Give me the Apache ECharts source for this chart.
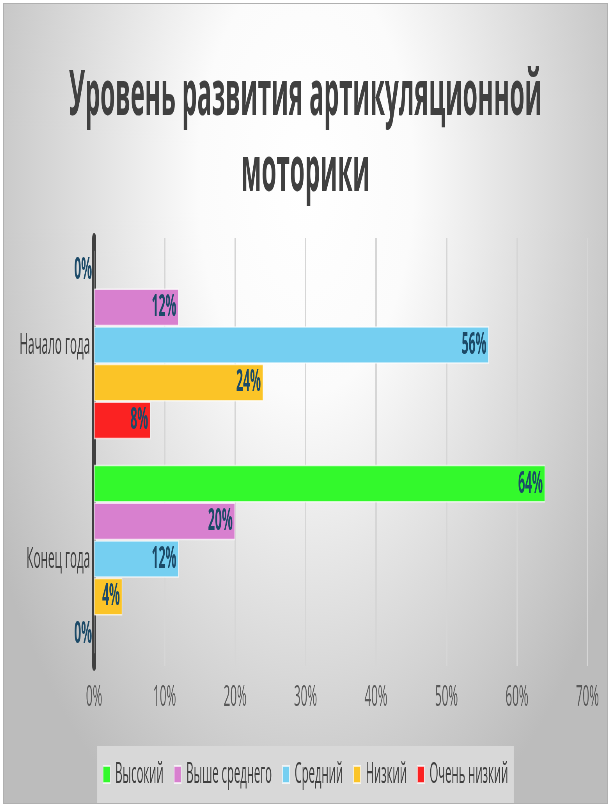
<!DOCTYPE html>
<html>
<head>
<meta charset="utf-8">
<script src="https://cdn.jsdelivr.net/npm/echarts@6/dist/echarts.min.js"></script>
<style>
  html, body { margin: 0; padding: 0; background: #fff; }
  #wrap {
    position: absolute; left: 3px; top: 3px; width: 603px; height: 799px;
    border: 1px solid #b0b0b0; overflow: hidden;
    background: radial-gradient(ellipse 360px 720px at 50% 22%, #ffffff 0%, #fbfbfb 30%, #bcbcbc 100%);
  }
  /* исходная картинка сжата по горизонтали, поэтому рисуем шире и сжимаем */
  #chart { width: 1546px; height: 799px; transform: scaleX(0.39); transform-origin: 0 0; }
</style>
</head>
<body>
<div id="wrap"><div id="chart"></div></div>
<script>
  // данные
  const categories = ['Начало года', 'Конец года'];
  const levels = ['Высокий', 'Выше среднего', 'Средний', 'Низкий', 'Очень низкий'];
  const vysokiy = [0, 64];
  const vysheSrednego = [12, 20];
  const sredniy = [56, 12];
  const nizkiy = [24, 4];
  const ochenNizkiy = [8, 0];
  const xMin = 0, xMax = 70, xStep = 10;

  const colors = ['#33f92c', '#d880cf', '#75cff1', '#fbc427', '#fb2222'];
  const values = [vysokiy, vysheSrednego, sredniy, nizkiy, ochenNizkiy];
  const font = '"Open Sans", sans-serif';

  const chart = echarts.init(document.getElementById('chart'));

  const option = {
    backgroundColor: 'transparent',
    animation: false,
    title: {
      text: 'Уровень развития артикуляционной\nмоторики',
      left: 'center',
      top: 50,
      textStyle: {
        fontFamily: font,
        fontWeight: 'bold',
        fontSize: 62,
        lineHeight: 76,
        color: '#404040'
      }
    },
    grid: {
      left: 231,
      right: 50,
      top: 234,
      bottom: 137,
      containLabel: false
    },
    legend: {
      data: levels,
      bottom: 0,
      left: 'center',
      backgroundColor: '#d8d8d8',
      padding: [14, 14, 14, 14],
      icon: 'rect',
      itemWidth: 18,
      itemHeight: 17,
      itemGap: 26,
      textStyle: {
        fontFamily: font,
        fontSize: 29,
        color: '#404040',
        padding: [0, 0, 0, 8]
      }
    },
    xAxis: {
      type: 'value',
      min: xMin,
      max: xMax,
      interval: xStep,
      axisLine: { show: false },
      axisTick: { show: false },
      splitLine: { lineStyle: { color: '#d6d6d6', width: 4 } },
      axisLabel: {
        formatter: '{value}%',
        margin: 16,
        fontFamily: font,
        fontSize: 30,
        color: '#595959'
      }
    },
    yAxis: {
      type: 'category',
      inverse: true,
      data: categories,
      axisLine: { show: true, lineStyle: { color: '#404040', width: 10 } },
      axisTick: { show: false },
      axisLabel: {
        margin: 10,
        fontFamily: font,
        fontSize: 30,
        color: '#404040'
      }
    },
    series: levels.map((name, i) => ({
      name: name,
      type: 'bar',
      data: values[i],
      barGap: '0%',
      barCategoryGap: '12%',
      itemStyle: {
        color: colors[i],
        borderColor: 'rgba(255,255,255,0.7)',
        borderWidth: 1.5
      },
      label: {
        show: true,
        position: 'insideRight',
        distance: 6,
        formatter: '{c}%',
        fontFamily: font,
        fontWeight: 'bold',
        fontSize: 31,
        color: '#1c4a68'
      }
    }))
  };

  chart.setOption(option);
  window.addEventListener('resize', function () {
    chart.resize();
  });
</script>
</body>
</html>
